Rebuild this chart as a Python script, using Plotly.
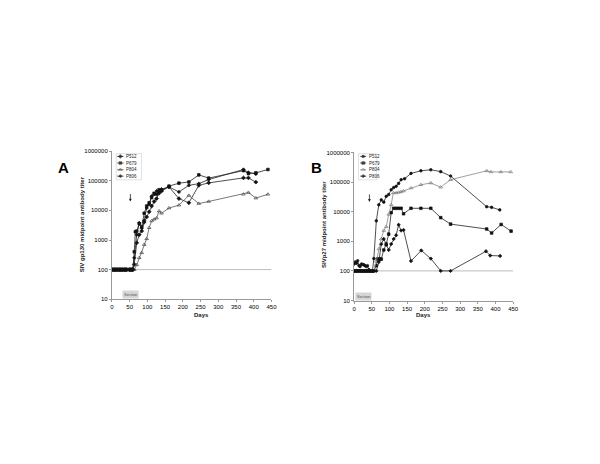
import plotly.graph_objects as go

# ---- data ----
base_days = [0, 3, 7, 10, 14, 17, 21, 24, 28, 31, 35, 38, 42, 49, 52, 56, 59]
base_vals = [100] * len(base_days)

# Panel A: SIV gp130 titers
a_p512_days = base_days + [63, 70, 77, 84, 91, 98, 105, 112, 119, 126, 133, 140, 161, 189, 217, 245, 273, 371, 385, 406]
a_p512_vals = base_vals + [150, 800, 1500, 2000, 4000, 6000, 9000, 14000, 20000, 25000, 38000, 45000, 62000, 25000, 18000, 70000, 85000, 125000, 125000, 90000]

a_p679_days = base_days + [63, 66, 70, 77, 84, 91, 98, 105, 112, 119, 126, 133, 140, 161, 189, 217, 245, 273, 371, 385, 406, 440]
a_p679_vals = base_vals + [400, 1900, 2000, 3500, 2800, 8000, 14000, 18000, 27000, 38000, 35000, 50000, 48000, 66000, 83000, 91000, 158000, 123000, 220000, 175000, 185000, 240000]

a_p804_days = base_days + [63, 70, 77, 84, 91, 98, 105, 112, 119, 126, 133, 140, 161, 189, 217, 245, 273, 371, 385, 406, 440]
a_p804_vals = base_vals + [100, 145, 250, 370, 700, 1100, 2600, 4400, 5000, 5500, 9500, 8000, 12000, 15000, 32000, 17000, 20000, 35000, 40000, 26000, 35000]

a_p806_days = base_days + [63, 70, 77, 84, 91, 98, 105, 112, 119, 126, 133, 140, 161, 189, 217, 245, 273, 371, 385, 406]
a_p806_vals = base_vals + [250, 1500, 3800, 2500, 4500, 12000, 16000, 30000, 35000, 45000, 42000, 52000, 62000, 42000, 70000, 80000, 110000, 240000, 190000, 170000]

# Panel B: SIV p27 titers
b_early_days = [0, 3, 7, 10, 14, 17, 21, 24, 28, 31, 35, 38, 42, 45, 49, 52]
b_p512_days = b_early_days + [56, 63, 70, 77, 84, 91, 98, 105, 112, 119, 126, 133, 143, 161, 189, 217, 245, 273, 375, 389, 412]
b_p512_vals = [170, 200, 180, 220, 150, 140, 170, 165, 160, 150, 140, 150, 110, 100, 100, 100] + \
    [260, 4900, 17000, 25000, 21000, 33000, 38000, 55000, 65000, 72000, 90000, 120000, 130000, 196000, 240000, 260000, 225000, 160000, 14700, 14000, 11500]

b_p679_days = b_early_days + [56, 63, 66, 70, 73, 77, 84, 91, 98, 105, 112, 119, 126, 133, 140, 161, 189, 217, 245, 273, 375, 389, 416, 444]
b_p679_vals = [100] * 16 + [100, 150, 250, 250, 250, 250, 510, 810, 1740, 9300, 13000, 13000, 13000, 13000, 8500, 13000, 13000, 13000, 6300, 3800, 2600, 1900, 3700, 2200]

b_p804_days = b_early_days + [56, 63, 70, 77, 84, 91, 98, 105, 111, 119, 126, 133, 140, 161, 189, 217, 245, 273, 375, 387, 415, 443]
b_p804_vals = [100] * 16 + [100, 210, 550, 1200, 2300, 3100, 8100, 17000, 43000, 43000, 45000, 47000, 50000, 63000, 81000, 93000, 67000, 120000, 240000, 220000, 220000, 220000]

b_p806_days = b_early_days + [56, 63, 70, 77, 84, 91, 98, 105, 112, 119, 126, 133, 140, 161, 190, 217, 245, 273, 373, 385, 413]
b_p806_vals = [100] * 16 + [100, 100, 200, 800, 1200, 750, 510, 810, 1200, 1600, 3600, 2300, 2400, 215, 490, 260, 100, 100, 460, 330, 320]

names = ["P512", "P679", "P804", "P806"]
x_ticks = [0, 50, 100, 150, 200, 250, 300, 350, 400, 450]
y_ticks = [10, 100, 1000, 10000, 100000, 1000000]
y_ticktext = ["10", "100", "1000", "10000", "100000", "1000000"]

# styles
A_STYLE = [
    dict(symbol="diamond", size=3, color="#111"),
    dict(symbol="square", size=2.6, color="#111"),
    dict(symbol="triangle-up-open", size=3.2, color="#444"),
    dict(symbol="diamond", size=2.6, color="#111"),
]
B_STYLE = [
    dict(symbol="circle", size=2.6, color="#111"),
    dict(symbol="square", size=2.6, color="#111"),
    dict(symbol="triangle-up-open", size=3.2, color="#777"),
    dict(symbol="diamond", size=2.6, color="#111"),
]
A_LINE = ["#222", "#222", "#555", "#222"]
B_LINE = ["#222", "#222", "#888", "#222"]

FONT = "Liberation Sans, Arial, sans-serif"

fig = go.Figure()

# 100 reference lines
for xa, ya in [("x", "y"), ("x2", "y2")]:
    fig.add_trace(go.Scatter(x=[0, 450], y=[100, 100], mode="lines",
                             line=dict(color="#aaa", width=0.8),
                             xaxis=xa, yaxis=ya, showlegend=False, hoverinfo="skip"))

a_series = [(a_p512_days, a_p512_vals), (a_p679_days, a_p679_vals),
            (a_p804_days, a_p804_vals), (a_p806_days, a_p806_vals)]
b_series = [(b_p512_days, b_p512_vals), (b_p679_days, b_p679_vals),
            (b_p804_days, b_p804_vals), (b_p806_days, b_p806_vals)]

for i, (d, v) in enumerate(a_series):
    fig.add_trace(go.Scatter(x=d, y=v, mode="lines+markers", name=names[i],
                             line=dict(color=A_LINE[i], width=0.8),
                             marker=dict(symbol=A_STYLE[i]["symbol"], size=A_STYLE[i]["size"],
                                         color=A_STYLE[i]["color"], line=dict(width=0.7, color=A_STYLE[i]["color"])),
                             xaxis="x", yaxis="y", showlegend=False))
for i, (d, v) in enumerate(b_series):
    fig.add_trace(go.Scatter(x=d, y=v, mode="lines+markers", name=names[i],
                             line=dict(color=B_LINE[i], width=0.8),
                             marker=dict(symbol=B_STYLE[i]["symbol"], size=B_STYLE[i]["size"],
                                         color=B_STYLE[i]["color"], line=dict(width=0.7, color=B_STYLE[i]["color"])),
                             xaxis="x2", yaxis="y2", showlegend=False))

# hand-drawn legends on a pixel overlay axis
W, H = 600, 464
legend_rows = [147.3, 154, 160.7, 167.3]
for (lx0, lx1, tx, styles, lines) in [(108.7, 115, 116, A_STYLE, A_LINE),
                                      (355, 361, 362, B_STYLE, B_LINE)]:
    for i, yy in enumerate(legend_rows):
        st = styles[i]
        fig.add_trace(go.Scatter(x=[lx0, (lx0 + lx1) / 2, lx1], y=[yy, yy, yy],
                                 mode="lines+markers",
                                 line=dict(color=lines[i], width=0.8),
                                 marker=dict(symbol=st["symbol"], size=[0, st["size"], 0], color=st["color"],
                                             line=dict(width=0.7, color=st["color"])),
                                 xaxis="x3", yaxis="y3", showlegend=False, hoverinfo="skip"))
        fig.add_annotation(x=tx / W, y=1 - yy / H, xref="paper", yref="paper", text=names[i],
                           showarrow=False, xanchor="left", yanchor="middle",
                           font=dict(size=4.5, family=FONT, color="#222"))

axis_common = dict(showgrid=False, zeroline=False, showline=True, linecolor="#999", linewidth=1,
                   ticks="outside", ticklen=2, tickcolor="#999",
                   tickfont=dict(size=6, family=FONT, color="black"))

fig.update_layout(
    width=W, height=H,
    margin=dict(l=0, r=0, t=0, b=0),
    paper_bgcolor="white", plot_bgcolor="rgba(0,0,0,0)",
    showlegend=False,
    xaxis=dict(domain=[103.3 / W, 265 / W], range=[0, 450], anchor="y",
               tickvals=x_ticks, **axis_common),
    yaxis=dict(domain=[1 - 292 / H, 1 - 142 / H], type="log", range=[1, 6], anchor="x",
               tickvals=y_ticks, ticktext=y_ticktext, **axis_common),
    xaxis2=dict(domain=[348.7 / W, 510 / W], range=[0, 450], anchor="y2",
                tickvals=x_ticks, **axis_common),
    yaxis2=dict(domain=[1 - 293.3 / H, 1 - 143.3 / H], type="log", range=[1, 6], anchor="x2",
                tickvals=y_ticks, ticktext=y_ticktext, **axis_common),
    xaxis3=dict(domain=[0, 1], range=[0, W], visible=False, anchor="y3"),
    yaxis3=dict(domain=[0, 1], range=[H, 0], visible=False, anchor="x3"),
)

# legend boxes
for x0, x1 in [(107.7, 133.3), (353.3, 371.7)]:
    fig.add_shape(type="rect", xref="paper", yref="paper", x0=x0 / W, x1=x1 / W,
                  y0=1 - 171 / H, y1=1 - 144.5 / H, line=dict(color="#ccc", width=0.6))

# panel letters
fig.add_annotation(x=47 / W, y=1 - 148 / H, xref="paper", yref="paper", text="<b>A</b>",
                   showarrow=False, font=dict(size=15, family=FONT, color="black"))
fig.add_annotation(x=311 / W, y=1 - 148 / H, xref="paper", yref="paper", text="<b>B</b>",
                   showarrow=False, font=dict(size=15, family=FONT, color="black"))

# axis titles
fig.add_annotation(x=68 / W, y=1 - 216 / H, xref="paper", yref="paper",
                   text="<b>SIV gp130 midpoint antibody titer</b>", textangle=-90,
                   showarrow=False, font=dict(size=6, family=FONT, color="#222"))
fig.add_annotation(x=318 / W, y=1 - 216 / H, xref="paper", yref="paper",
                   text="<b>SIVp27 midpoint antibody titer</b>", textangle=-90,
                   showarrow=False, font=dict(size=6, family=FONT, color="#222"))
for cx in [184, 429]:
    fig.add_annotation(x=cx / W, y=1 - 313 / H, xref="paper", yref="paper", text="<b>Days</b>",
                       showarrow=False, font=dict(size=6, family=FONT, color="#222"))

# "Section" tags
for cx, cy in [(114, 287.7), (358.7, 289.7)]:
    fig.add_annotation(x=cx / W, y=1 - cy / H, xref="paper", yref="paper", text="Section",
                       showarrow=False, bgcolor="#d6d6d6", borderpad=1,
                       font=dict(size=4, family=FONT, color="#555"))

# inoculation arrows (log axis -> annotation y in log10)
fig.add_annotation(x=52, y=4.3, xref="x", yref="y", ax=0, ay=-9, showarrow=True,
                   arrowhead=2, arrowsize=0.7, arrowwidth=0.8, arrowcolor="#222", text="")
fig.add_annotation(x=43.5, y=4.33, xref="x2", yref="y2", ax=0, ay=-9, showarrow=True,
                   arrowhead=2, arrowsize=0.7, arrowwidth=0.8, arrowcolor="#222", text="")

fig.write_html("out.html")
